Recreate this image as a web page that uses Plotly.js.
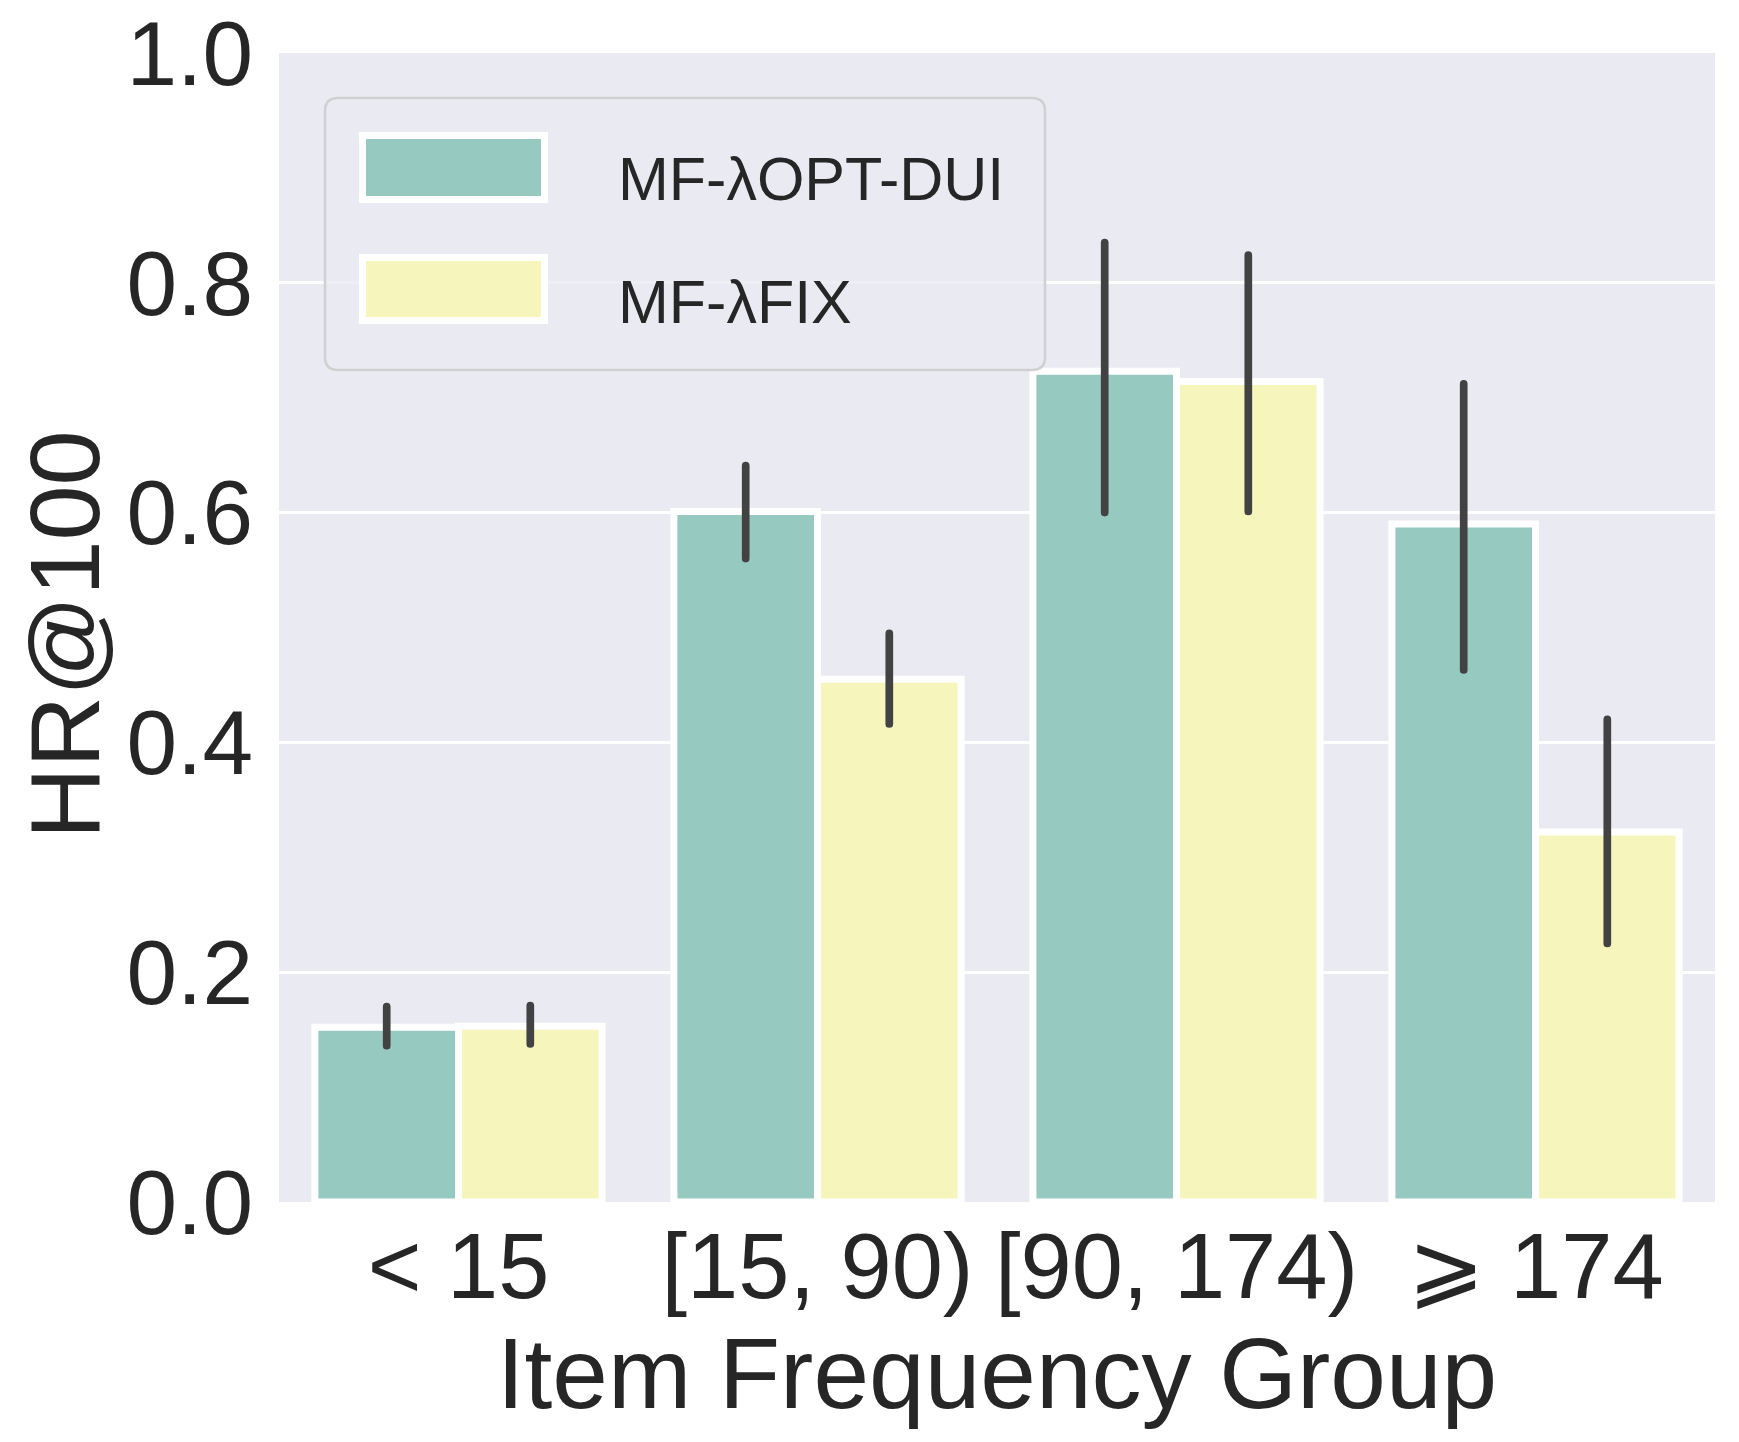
<!DOCTYPE html>
<html>
<head>
<meta charset="utf-8">
<script src="https://cdn.plot.ly/plotly-3.0.1.min.js"></script>
<style>
  html, body { margin: 0; padding: 0; background: #ffffff; }
  #chart { width: 1739px; height: 1442px; }
</style>
</head>
<body>
<div id="chart"></div>
<script>
// ---- data ----
const categories = ["< 15", "[15, 90)", "[90, 174)", "⩾ 174"];
const seriesNames = ["MF-λOPT-DUI", "MF-λFIX"];
const optValues = [0.152, 0.601, 0.723, 0.590];
const optLower  = [0.136, 0.560, 0.600, 0.463];
const optUpper  = [0.170, 0.641, 0.835, 0.712];
const fixValues = [0.153, 0.455, 0.714, 0.322];
const fixLower  = [0.1375, 0.416, 0.601, 0.225];
const fixUpper  = [0.171, 0.495, 0.824, 0.420];
const yTickVals = [0.0, 0.2, 0.4, 0.6, 0.8, 1.0];
const yTickText = ["0.0", "0.2", "0.4", "0.6", "0.8", "1.0"];
const xTitle = "Item Frequency Group";
const yTitle = "HR@100";

// ---- style ----
const colors = ["#96cac1", "#f6f6bc"];
const textColor = "#262626";
const fontFamily = "Liberation Sans, Arial, Helvetica, DejaVu Sans, sans-serif";
const W = 1739, H = 1442;
const M = {l: 279, r: 24, t: 53, b: 240};
const plotW = W - M.l - M.r, plotH = H - M.t - M.b;
const px2x = px => (px - M.l) / plotW;
const px2y = py => (H - M.b - py) / plotH;

function roundedRect(x0, y0, x1, y1, r) {
  const rx = r / plotW, ry = r / plotH;
  const X0 = px2x(x0), X1 = px2x(x1), Y0 = px2y(y0), Y1 = px2y(y1); // Y0 top, Y1 bottom
  return `M ${X0 + rx},${Y0} L ${X1 - rx},${Y0} Q ${X1},${Y0} ${X1},${Y0 - ry} ` +
         `L ${X1},${Y1 + ry} Q ${X1},${Y1} ${X1 - rx},${Y1} ` +
         `L ${X0 + rx},${Y1} Q ${X0},${Y1} ${X0},${Y1 + ry} ` +
         `L ${X0},${Y0 - ry} Q ${X0},${Y0} ${X0 + rx},${Y0} Z`;
}

function makeTrace(name, vals, lo, hi, color) {
  return {
    type: "bar",
    name: name,
    x: categories,
    y: vals,
    marker: {color: color, line: {color: "#ffffff", width: 7}},
    error_y: {
      type: "data",
      symmetric: false,
      array: hi.map((h, i) => h - vals[i]),
      arrayminus: lo.map((l, i) => vals[i] - l),
      color: "#424242",
      thickness: 7.7,
      width: 0
    },
    showlegend: false,
    hoverinfo: "skip"
  };
}

const traces = [
  makeTrace(seriesNames[0], optValues, optLower, optUpper, colors[0]),
  makeTrace(seriesNames[1], fixValues, fixLower, fixUpper, colors[1])
];

// custom legend (matplotlib-style)
const shapes = [
  {type: "path", xref: "paper", yref: "paper", layer: "above",
   path: roundedRect(325, 98, 1045, 370, 13),
   fillcolor: "rgba(234,234,242,0.8)", line: {color: "#d0d0d0", width: 2.5}}
];
const patchY = [[135.5, 199.5], [257.5, 320.5]];
const textY = [177.5, 301];
const annotations = [];
seriesNames.forEach((nm, i) => {
  shapes.push({type: "rect", xref: "paper", yref: "paper", layer: "above",
    x0: px2x(362.5), x1: px2x(544.5), y0: px2y(patchY[i][1]), y1: px2y(patchY[i][0]),
    fillcolor: colors[i], line: {color: "#ffffff", width: 7}});
  annotations.push({xref: "paper", yref: "paper", x: px2x(616), y: px2y(textY[i] + 1),
    xanchor: "left", yanchor: "middle", showarrow: false, text: nm,
    font: {family: fontFamily, size: 61, color: textColor}});
});
// y-axis title
annotations.push({xref: "paper", yref: "paper", x: px2x(64), y: px2y(635),
  xanchor: "center", yanchor: "middle", textangle: -90, showarrow: false, text: yTitle,
  font: {family: fontFamily, size: 99, color: textColor}});

const layout = {
  width: W, height: H,
  margin: M,
  paper_bgcolor: "#ffffff",
  plot_bgcolor: "#eaeaf2",
  font: {family: fontFamily, color: textColor},
  barmode: "group",
  bargap: 0.2,
  bargroupgap: 0,
  showlegend: false,
  xaxis: {
    type: "category",
    range: [-0.5, 3.5],
    showgrid: false, zeroline: false, showline: false,
    ticks: "", ticklabelstandoff: 3,
    tickfont: {family: fontFamily, size: 92, color: textColor},
    title: {text: xTitle, font: {family: fontFamily, size: 100, color: textColor}, standoff: 1}
  },
  yaxis: {
    range: [0, 1.0],
    tickvals: yTickVals, ticktext: yTickText,
    showgrid: true, gridcolor: "#ffffff", gridwidth: 3,
    zeroline: false, showline: false,
    ticks: "", ticklabelstandoff: 25,
    tickfont: {family: fontFamily, size: 91, color: textColor}
  },
  shapes: shapes,
  annotations: annotations
};

Plotly.newPlot("chart", traces, layout, {displayModeBar: false, staticPlot: true}).then(() => {
  document.querySelectorAll("g.errorbar path").forEach(p => {
    p.style.strokeLinecap = "round";
  });
});
</script>
</body>
</html>
